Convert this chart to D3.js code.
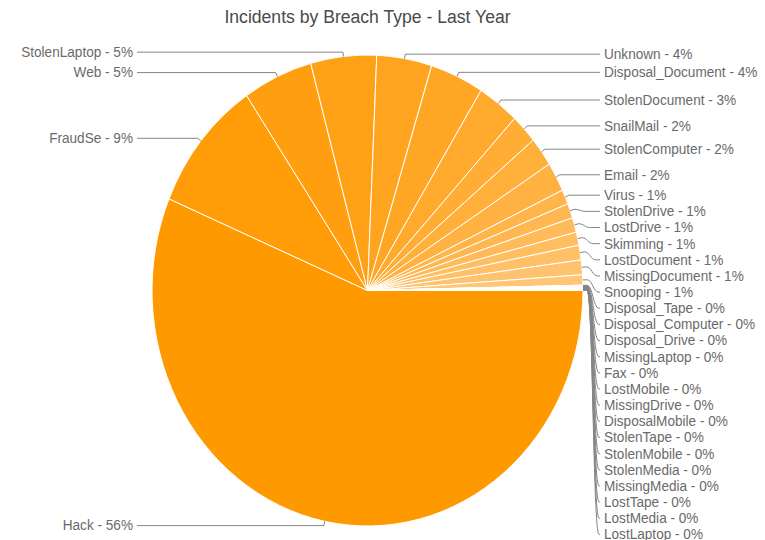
<!DOCTYPE html>
<html><head><meta charset="utf-8">
<script src="https://cdn.jsdelivr.net/npm/d3@7"></script>
<style>body{margin:0;background:#fff}</style>
</head><body>
<svg id="chart" width="765" height="540"></svg>
<script>
const chartTitle = "Incidents by Breach Type - Last Year";
const categories = ["Hack","FraudSe","Web","StolenLaptop","Unknown","Disposal_Document","StolenDocument","SnailMail","StolenComputer","Email","Virus","StolenDrive","LostDrive","Skimming","LostDocument","MissingDocument","Snooping","Disposal_Tape","Disposal_Computer","Disposal_Drive","MissingLaptop","Fax","LostMobile","MissingDrive","DisposalMobile","StolenTape","StolenMobile","StolenMedia","MissingMedia","LostTape","LostMedia","LostLaptop"];
const values = [560,91,52,49,41,40,31,20,20,20,10,10,10,9,10,10,7,0.3,0.3,0.3,0.3,0.3,0.3,0.2,0.2,0.2,0.2,0.2,0.2,0.2,0.2,0.2];

const W = 765, H = 540;
const sy = 235.5 / 215.5;          // vertical stretch of the reference
const cx = 367.5, cy = 290.5 / sy, r = 215.5;
const font = "'Liberation Sans', Arial, Helvetica, sans-serif";

const svg = d3.select("#chart");
const g = svg.append("g").attr("transform", `scale(1,${sy})`);

g.append("text")
  .attr("x", 367.5).attr("y", 22.7 / sy)
  .attr("text-anchor", "middle")
  .attr("font-family", font).attr("font-size", 17.6)
  .attr("fill", "#4a4a4a")
  .text(chartTitle);

const data = categories.map((c, i) => ({ name: c, value: values[i], i }));
const total = d3.sum(values);

const pie = d3.pie().sort(null).value(d => d.value)
  .startAngle(Math.PI / 2).endAngle(Math.PI / 2 + 2 * Math.PI);
const arcs = pie(data);
const arc = d3.arc().innerRadius(0).outerRadius(r);
const color = d3.scaleLinear().domain([0, 16, categories.length - 1])
  .range(["#FF9900", "#FFC676", "#FFD9A6"]).clamp(true);

const pieG = g.append("g").attr("transform", `translate(${cx},${cy})`);
pieG.selectAll("path").data(arcs).join("path")
  .attr("d", arc)
  .attr("fill", d => color(d.data.i))
  .attr("stroke", "#fff").attr("stroke-width", 1)
  .attr("vector-effect", "non-scaling-stroke");

// label layout
arcs.forEach(a => {
  a.mid = (a.startAngle + a.endAngle) / 2;
  a.ax = cx + r * Math.sin(a.mid); a.ay = cy - r * Math.cos(a.mid);
  a.ex = cx + (r + 4) * Math.sin(a.mid); a.ey = cy - (r + 4) * Math.cos(a.mid);
  a.right = Math.sin(a.mid) > 0;
});
const sp = 16.15 / sy;
[true, false].forEach(side => {
  const list = arcs.filter(a => a.right === side).sort((a, b) => a.ey - b.ey);
  let prev = -Infinity;
  list.forEach(a => { a.ly = Math.max(a.ey, prev + sp); prev = a.ly; });
});

const labG = g.append("g");
labG.selectAll("path").data(arcs).join("path")
  .attr("fill", "none").attr("stroke", "#858585").attr("stroke-width", 1)
  .attr("vector-effect", "non-scaling-stroke")
  .attr("d", a => {
    const s = a.right ? 1 : -1;
    const endX = a.right ? 600 : 137;
    const p = d3.path();
    p.moveTo(a.ax, a.ay);
    p.lineTo(a.ex, a.ey);
    if (Math.abs(a.ly - a.ey) > 0.3) {
      p.bezierCurveTo(a.ex + 6 * s, a.ey, a.ex + 6 * s, a.ly, a.ex + 12 * s, a.ly);
    }
    p.lineTo(endX, a.ly);
    return p.toString();
  });

labG.selectAll("text").data(arcs).join("text")
  .attr("x", a => a.right ? 604 : 133)
  .attr("y", a => a.ly)
  .attr("dy", "0.33em")
  .attr("text-anchor", a => a.right ? "start" : "end")
  .attr("font-family", font).attr("font-size", 13.6)
  .attr("fill", "#6a6a6a")
  .text(a => `${a.data.name} - ${Math.round(a.data.value / total * 100)}%`);
</script>
</body></html>
